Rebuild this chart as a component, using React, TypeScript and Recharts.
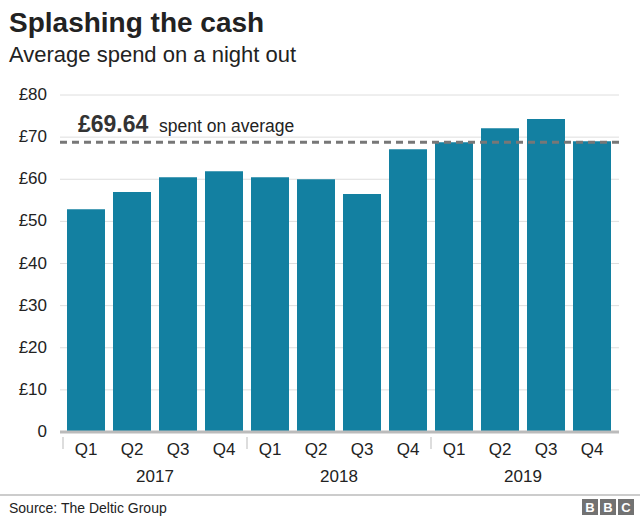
import React from "react";
import {
  BarChart,
  Bar,
  XAxis,
  YAxis,
  CartesianGrid,
  ReferenceLine,
} from "recharts";

// Values
const years = ["2017", "2018", "2019"];
const quarters = ["Q1", "Q2", "Q3", "Q4"];
const spend = [52.9, 57.0, 60.5, 61.9, 60.5, 60.0, 56.5, 67.1, 68.8, 72.1, 74.3, 69.0];
const yTicks = [0, 10, 20, 30, 40, 50, 60, 70, 80];
const averageLevel = 68.8;
const averageText = "£69.64";
const averageNote = "spent on average";

const FONT = "'Liberation Sans', Arial, Helvetica, sans-serif";
const BAR_COLOR = "#1380A1";
const TEXT = "#222222";

const chartData = spend.map((value, i) => ({
  quarter: quarters[i % 4],
  year: years[Math.floor(i / 4)],
  spend: value,
}));

const QuarterTick = (props: any) => {
  const { x, y, payload } = props;
  const index = props.index ?? payload?.index ?? 0;
  return (
    <g>
      <text x={x} y={y} dy="0.71em" textAnchor="middle" fontSize={17} fill={TEXT}>
        {payload.value}
      </text>
      {index % 4 === 0 && (
        <line x1={x - 23} x2={x - 23} y1={y - 6} y2={y + 6} stroke="#dddddd" strokeWidth={2} />
      )}
    </g>
  );
};

// money labels sit a touch above their gridlines
const MoneyTick = (props: any) => {
  const { x, y, payload } = props;
  const v = payload.value;
  return (
    <text x={x} y={y} dy="0.3em" textAnchor="end" fontSize={17} fill={TEXT}>
      {v === 0 ? "0" : `£${v}`}
    </text>
  );
};

const AverageLabel = (props: any) => {
  const { viewBox } = props;
  if (!viewBox) return null;
  return (
    <g>
      <text x={viewBox.x + 18} y={viewBox.y - 10} fontSize={23} fontWeight="bold" fill="#333333">
        {averageText}
      </text>
      <text x={viewBox.x + 99} y={viewBox.y - 10} fontSize={17.5} fill={TEXT}>
        {averageNote}
      </text>
    </g>
  );
};

export default function App() {
  return (
    <div
      style={{
        position: "absolute",
        left: 0,
        top: 0,
        width: 640,
        height: 520,
        background: "#fff",
        fontFamily: FONT,
      }}
    >
      <BarChart
        width={640}
        height={520}
        data={chartData}
        margin={{ top: 95, right: 21, bottom: 28, left: 0 }}
      >
        <CartesianGrid vertical={false} stroke="#dedede" />
        <YAxis
          domain={[0, 80]}
          ticks={yTicks}
          axisLine={false}
          tickLine={false}
          tickSize={0}
          tickMargin={13}
          width={60}
          tick={<MoneyTick />}
        />
        <XAxis
          dataKey="quarter"
          interval={0}
          height={30}
          padding={{ left: 3, right: 4 }}
          axisLine={{ stroke: "#bbbbbb", strokeWidth: 3 }}
          tickLine={false}
          tickSize={0}
          tickMargin={11}
          tick={<QuarterTick />}
        />
        <XAxis
          xAxisId="year"
          dataKey="year"
          allowDuplicatedCategory={false}
          height={30}
          padding={{ left: 3, right: 4 }}
          axisLine={false}
          tickLine={false}
          tickSize={0}
          tickMargin={8}
          tick={{ fontSize: 17, fill: TEXT }}
        />
        <Bar dataKey="spend" fill={BAR_COLOR} barSize={38} isAnimationActive={false} />
        <ReferenceLine
          y={averageLevel}
          stroke="#777777"
          strokeWidth={3}
          strokeDasharray="7 5"
          label={<AverageLabel />}
        />
      </BarChart>
      <svg
        width={640}
        height={520}
        style={{ position: "absolute", left: 0, top: 0, pointerEvents: "none" }}
      >
        <text x={9} y={32} fontSize={28} fontWeight="bold" fill={TEXT}>
          Splashing the cash
        </text>
        <text x={9} y={62} fontSize={22} fill={TEXT}>
          Average spend on a night out
        </text>
        <line x1={0} x2={640} y1={495} y2={495} stroke="#cccccc" strokeWidth={2} />
        <text x={9} y={513} fontSize={14} fill={TEXT}>
          Source: The Deltic Group
        </text>
        {["B", "B", "C"].map((letter, i) => (
          <g key={i}>
            <rect x={582 + i * 18} y={499} width={16} height={16} fill="#727272" />
            <text
              x={590 + i * 18}
              y={512}
              fontSize={13}
              fontWeight="bold"
              textAnchor="middle"
              fill="#ffffff"
            >
              {letter}
            </text>
          </g>
        ))}
      </svg>
    </div>
  );
}
